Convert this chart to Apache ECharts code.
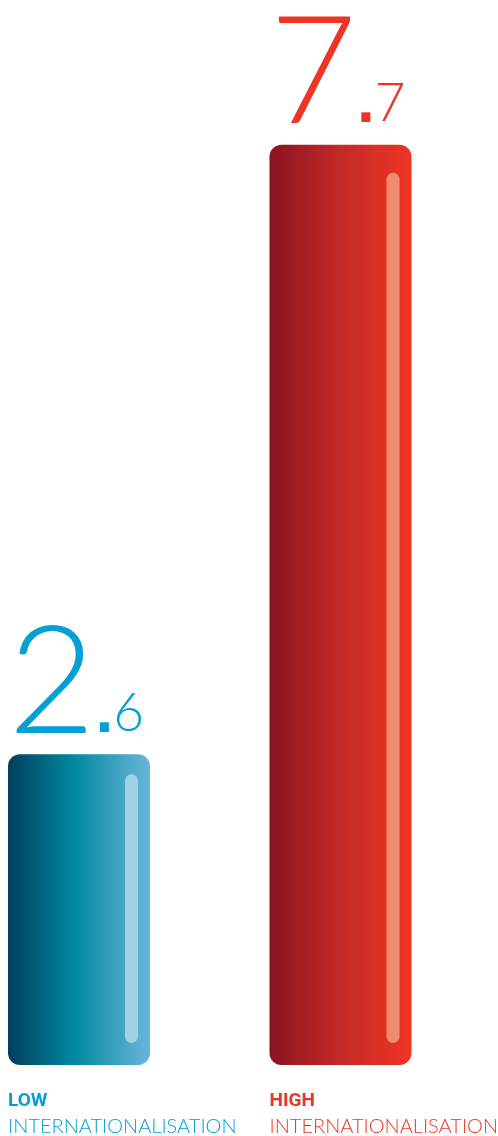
<!DOCTYPE html>
<html><head><meta charset="utf-8">
<script src="https://cdn.jsdelivr.net/npm/echarts@6/dist/echarts.min.js"></script>
<style>html,body{margin:0;padding:0;background:#fff}#c{width:498px;height:1136px}</style>
</head><body><div id="c"></div>
<script>
const categories = ['LOW', 'HIGH'];
const subLabels = ['INTERNATIONALISATION', 'INTERNATIONALISATION'];
const values = [2.6, 7.7];

const textColors = ['#05a0d3', '#ec3525'];
const gradients = [
  [[0, '#003f5c'], [0.45, '#00879f'], [1, '#69b6d8']],
  [[0, '#8a1320'], [0.5, '#c42a27'], [1, '#ef3524']]
];
const stripeColors = ['#a1d1e6', '#f18b6d'];

function grad(stops) {
  return new echarts.graphic.LinearGradient(0, 0, 1, 0, stops.map(s => ({offset: s[0], color: s[1]})));
}

const chart = echarts.init(document.getElementById('c'), null, {renderer: 'canvas'});

const mainData = values.map((v, i) => ({
  value: v,
  itemStyle: {color: grad(gradients[i])},
  label: {
    rich: {
      a: {fontFamily: 'Lato', fontWeight: 300, fontSize: 151, color: textColors[i], lineHeight: 151, verticalAlign: 'bottom'},
      d: {fontFamily: 'Liberation Sans', fontWeight: 'bold', fontSize: 64, color: textColors[i], lineHeight: 64, verticalAlign: 'bottom', padding: [0, 0, 13, 0]},
      b: {fontFamily: 'Lato', fontWeight: 300, fontSize: 53, color: textColors[i], lineHeight: 53, verticalAlign: 'bottom', padding: [0, 0, 19, 0]}
    }
  }
}));

const catData = values.map((v, i) => ({
  value: v,
  label: {
    rich: {
      h: {fontFamily: 'Roboto', fontWeight: 'bold', fontSize: 19, color: textColors[i], lineHeight: 26},
      s: {fontFamily: 'Lato', fontWeight: 300, fontSize: 20, color: textColors[i], lineHeight: 26}
    }
  }
}));

const option = {
  animation: false,
  backgroundColor: '#ffffff',
  grid: {left: 79, right: 157.5, top: 109, bottom: 71},
  xAxis: {type: 'category', data: categories, show: false, boundaryGap: false},
  yAxis: {type: 'value', min: 0, max: 8, show: false},
  series: [
    {
      type: 'bar',
      barWidth: 142,
      data: mainData,
      z: 2,
      itemStyle: {borderRadius: 12},
      label: {
        show: true,
        position: [0, 0],
        align: 'left',
        verticalAlign: 'bottom',
        offset: [0, 5],
        formatter: p => {
          const parts = String(p.value).split('.');
          return '{a|' + parts[0] + '}{d|.}{b|' + parts[1] + '}';
        }
      }
    },
    {
      type: 'bar',
      barWidth: 142,
      barGap: '-100%',
      silent: true,
      z: 1,
      data: catData,
      itemStyle: {color: 'rgba(0,0,0,0)'},
      label: {
        show: true,
        position: [0, '100%'],
        align: 'left',
        verticalAlign: 'top',
        offset: [0, 23],
        formatter: p => '{h|' + categories[p.dataIndex] + '}\n{s|' + subLabels[p.dataIndex] + '}'
      }
    },
    {
      type: 'custom',
      silent: true,
      z: 10,
      clip: false,
      data: values.map((v, i) => [i, v]),
      encode: {x: 0, y: 1},
      renderItem: (params, api) => {
        const i = api.value(0);
        const top = api.coord([i, api.value(1)]);
        const bot = api.coord([i, 0]);
        const w = 13;
        const y0 = top[1] + 20 + i * 8;
        const y1 = bot[1] - 22;
        return {
          type: 'rect',
          shape: {x: top[0] + 52.5 - w / 2, y: y0, width: w, height: y1 - y0, r: w / 2},
          style: {fill: stripeColors[i]}
        };
      }
    }
  ]
};
chart.setOption(option);
</script>
</body></html>
